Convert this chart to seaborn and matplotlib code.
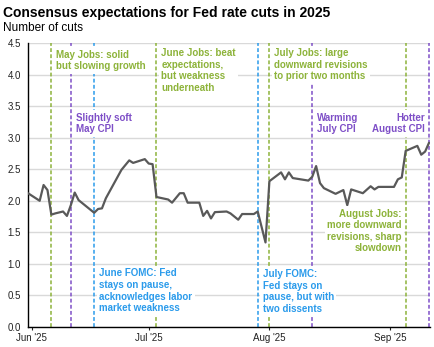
import matplotlib
matplotlib.use("Agg")
import matplotlib.pyplot as plt
import matplotlib.dates as mdates
import pandas as pd
import seaborn as sns

# ---- data -------------------------------------------------------------
dates = ["2025-05-31", "2025-06-03", "2025-06-04", "2025-06-05", "2025-06-06",
         "2025-06-07", "2025-06-09", "2025-06-10", "2025-06-11", "2025-06-12",
         "2025-06-13", "2025-06-17", "2025-06-18", "2025-06-19", "2025-06-20",
         "2025-06-24", "2025-06-26", "2025-06-27", "2025-06-30", "2025-07-01",
         "2025-07-02", "2025-07-03", "2025-07-06", "2025-07-07", "2025-07-09",
         "2025-07-10", "2025-07-11", "2025-07-14", "2025-07-15", "2025-07-16",
         "2025-07-17", "2025-07-18", "2025-07-21", "2025-07-22", "2025-07-24",
         "2025-07-25", "2025-07-28", "2025-07-29", "2025-07-31", "2025-08-01",
         "2025-08-04", "2025-08-05", "2025-08-06", "2025-08-07", "2025-08-09",
         "2025-08-11", "2025-08-12", "2025-08-13", "2025-08-14", "2025-08-15",
         "2025-08-18", "2025-08-20", "2025-08-21", "2025-08-22", "2025-08-25",
         "2025-08-27", "2025-08-28", "2025-08-29", "2025-09-02", "2025-09-03",
         "2025-09-04", "2025-09-05", "2025-09-08", "2025-09-09", "2025-09-10",
         "2025-09-11"]
cuts = [2.12, 2.00, 2.25, 2.17, 1.78,
        1.80, 1.83, 1.76, 1.93, 2.13,
        2.01, 1.81, 1.87, 1.88, 2.04,
        2.49, 2.64, 2.60, 2.66, 2.59,
        2.58, 2.06, 2.02, 1.97, 2.12,
        2.12, 1.97, 1.97, 1.76, 1.84,
        1.72, 1.82, 1.83, 1.80, 1.70,
        1.79, 1.79, 1.83, 1.34, 2.31,
        2.45, 2.34, 2.45, 2.36, 2.34,
        2.32, 2.38, 2.55, 2.28, 2.20,
        2.11, 2.17, 1.93, 2.18, 2.12,
        2.23, 2.18, 2.22, 2.22, 2.34,
        2.37, 2.79, 2.87, 2.73, 2.78,
        2.92]

event_dates = ["2025-06-06", "2025-06-11", "2025-06-17", "2025-07-03", "2025-07-29",
               "2025-08-01", "2025-08-12", "2025-09-05", "2025-09-11"]
event_kinds = ["jobs", "cpi", "fomc", "jobs", "fomc", "jobs", "cpi", "jobs", "cpi"]
event_labels = ["May Jobs: solid\nbut slowing growth",
                "Slightly soft\nMay CPI",
                "June FOMC: Fed\nstays on pause,\nacknowledges labor\nmarket weakness",
                "June Jobs: beat\nexpectations,\nbut weakness\nunderneath",
                "July FOMC:\nFed stays on\npause, but with\ntwo dissents",
                "July Jobs: large\ndownward revisions\nto prior two months",
                "Warming\nJuly CPI",
                "August Jobs:\nmore downward\nrevisions, sharp\nslowdown",
                "Hotter\nAugust CPI"]
label_y = [4.22, 3.225, 0.575, 4.067, 0.56, 4.156, 3.225, 1.52, 3.225]
label_side = ["right", "right", "right", "right", "right", "right", "right", "left", "left"]

y_ticks = [0.0, 0.5, 1.0, 1.5, 2.0, 2.5, 3.0, 3.5, 4.0, 4.5]
x_ticks = ["2025-06-01", "2025-07-01", "2025-08-01", "2025-09-01"]

kind_colors = {"jobs": "#8DB33A", "cpi": "#7E4FC7", "fomc": "#2B9BEB"}

# ---- style ------------------------------------------------------------
sns.set_theme(style="white")
plt.rcParams["font.family"] = ["Liberation Sans", "DejaVu Sans"]

df = pd.DataFrame({"date": pd.to_datetime(dates), "cuts": cuts})

fig = plt.figure(figsize=(4.34, 3.47), dpi=100)
ax = fig.add_axes([28 / 434, 1 - 327 / 347, 402 / 434, 284 / 347])

sns.lineplot(data=df, x="date", y="cuts", ax=ax, color="#595959", lw=1.6, zorder=3)

ax.set_ylim(0, 4.5)
ax.set_xlim(pd.Timestamp("2025-05-31"), pd.Timestamp("2025-09-11 06:00"))
ax.set_yticks(y_ticks)
ax.set_yticklabels([f"{v:.1f}" for v in y_ticks])
ax.set_xticks(pd.to_datetime(x_ticks))
ax.xaxis.set_major_formatter(mdates.DateFormatter("%b '%y"))
ax.set_xlabel("")
ax.set_ylabel("")

ax.yaxis.grid(True, color="#D9D9D9", lw=1.0, zorder=0)
ax.xaxis.grid(False)
ax.set_axisbelow(True)
for s in ["top", "right"]:
    ax.spines[s].set_visible(False)
for s in ["left", "bottom"]:
    ax.spines[s].set_color("black")
    ax.spines[s].set_linewidth(1.0)

ax.tick_params(axis="y", length=0, pad=5, labelsize=7, colors="#222222")
ax.tick_params(axis="x", length=2.5, width=0.8, pad=2, labelsize=7, colors="#222222",
               direction="out", bottom=True)

for d, k, lab, ly, side in zip(event_dates, event_kinds, event_labels, label_y, label_side):
    c = kind_colors[k]
    dt = pd.Timestamp(d)
    ax.axvline(dt, color=c, lw=1.1, linestyle=(0, (2.5, 1.5)), zorder=2)
    off = 5 if side == "right" else -4
    ha = "left" if side == "right" else "right"
    ax.annotate(lab, xy=(dt, ly), xytext=(off, 0), textcoords="offset pixels",
                ha=ha, va="center", multialignment=ha, fontsize=7, fontweight="bold",
                color=c, linespacing=1.2, zorder=5,
                bbox=dict(boxstyle="square,pad=0.25", fc="white", ec="none"))

fig.text(3 / 434, 1 - 13 / 347, "Consensus expectations for Fed rate cuts in 2025",
         fontsize=10, fontweight="bold", color="black", va="center", ha="left")
fig.text(3 / 434, 1 - 28 / 347, "Number of cuts", fontsize=8.5, color="black",
         va="center", ha="left")

fig.savefig("out.png", dpi=100)
